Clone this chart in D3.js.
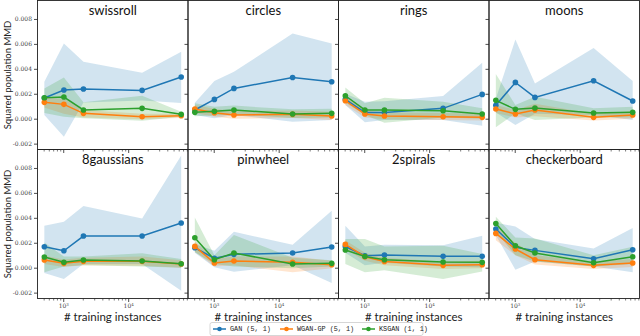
<!DOCTYPE html>
<html>
<head>
<meta charset="utf-8">
<script src="https://cdn.jsdelivr.net/npm/d3@7"></script>
<style>
  body { margin: 0; background: #fff; }
  svg { display: block; }
</style>
</head>
<body>
<svg id="chart"></svg>
<script>
// datasets (one panel each), x positions, series
const datasets = ['swissroll', 'circles', 'rings', 'moons', '8gaussians', 'pinwheel', '2spirals', 'checkerboard'];
const instances = [512, 1024, 2048, 16384, 65536];
const seriesNames = ['GAN (5, 1)', 'WGAN-GP (5, 1)', 'KSGAN (1, 1)'];
const seriesColors = ['#1f77b4', '#ff7f0e', '#2ca02c'];
const yTicks = [-2, 0, 2, 4, 6, 8];       // in units of 1e-3
const xMajorTicks = [1e3, 1e4];

// all MMD values below are in units of 1e-3, one row per dataset
const ganMean = [
  [1.66, 2.30, 2.38, 2.27, 3.34], [0.70, 1.55, 2.43, 3.31, 2.96], [1.55, 0.50, 0.50, 0.83, 1.95], [1.07, 2.91, 1.71, 3.04, 1.42],
  [1.68, 1.36, 2.54, 2.54, 3.58], [1.60, 0.75, 1.07, 1.18, 1.66], [1.70, 0.96, 1.02, 0.91, 0.91], [3.10, 1.63, 1.39, 0.72, 1.44]
];
const ganLow = [
  [0.30, -1.44, 1.30, 1.45, 1.25], [0.30, 0.03, 0.30, -0.24, -0.10], [1.10, -0.29, -0.10, -0.10, -0.56], [0.50, -0.50, 0.40, 0.30, -0.10],
  [-0.42, -0.90, 0.30, 0.30, -1.84], [1.20, 0.03, -0.32, 0.20, -1.22], [1.20, 0.20, 0.40, 0.10, 0.03], [2.60, -0.16, 0.50, 0.10, -0.37]
];
const ganHigh = [
  [2.96, 6.03, 4.56, 3.68, 5.36], [1.28, 3.02, 3.76, 6.83, 6.03], [2.00, 1.36, 1.40, 1.82, 4.48], [1.60, 6.35, 2.83, 5.68, 3.02],
  [3.36, 3.68, 4.94, 3.95, 9.00], [1.90, 1.36, 2.88, 1.84, 4.56], [3.36, 1.70, 1.84, 1.80, 2.56], [3.60, 3.31, 2.30, 1.55, 3.18]
];

const wganMean = [
  [1.31, 1.15, 0.43, 0.16, 0.24], [0.78, 0.48, 0.30, 0.35, 0.22], [1.44, 0.38, 0.22, 0.16, 0.11], [0.78, 0.38, 0.70, 0.11, 0.30],
  [0.62, 0.35, 0.51, 0.51, 0.30], [1.71, 0.38, 0.54, 0.43, 0.24], [1.87, 0.88, 0.50, 0.19, 0.24], [2.75, 1.50, 0.64, 0.19, 0.38]
];
const wganLow = [
  [0.90, 0.40, 0.10, -0.05, 0.05], [0.45, 0.15, 0.00, 0.05, -0.10], [1.10, 0.10, -0.05, -0.10, -0.15], [0.45, 0.10, 0.20, -0.15, 0.00],
  [0.30, 0.05, 0.20, 0.15, 0.00], [1.30, 0.10, 0.20, -0.37, -0.05], [1.50, 0.55, 0.20, -0.10, -0.05], [2.20, 1.00, 0.25, -0.10, 0.05]
];
const wganHigh = [
  [1.70, 1.60, 0.70, 0.40, 0.40], [1.10, 0.80, 0.60, 0.65, 0.55], [1.80, 0.65, 0.50, 0.45, 0.40], [1.10, 0.70, 1.20, 0.40, 0.60],
  [0.95, 0.65, 0.80, 0.90, 0.60], [2.10, 0.70, 0.90, 0.90, 0.55], [2.20, 1.20, 0.80, 0.50, 0.55], [3.30, 2.00, 1.00, 0.50, 0.70]
];

const ksganMean = [
  [1.68, 1.74, 0.70, 0.83, 0.35], [0.51, 0.59, 0.70, 0.38, 0.43], [1.84, 0.70, 0.70, 0.64, 0.38], [1.47, 0.75, 0.86, 0.46, 0.51],
  [0.86, 0.43, 0.62, 0.54, 0.32], [2.40, 0.64, 1.18, 0.30, 0.35], [1.42, 0.90, 0.64, 0.46, 0.43], [3.55, 1.76, 1.18, 0.40, 0.88]
];
const ksganLow = [
  [0.45, 0.16, 0.03, -0.16, 0.16], [0.20, 0.25, 0.35, 0.05, 0.10], [1.30, 0.30, -0.32, 0.10, 0.00], [-0.69, 0.43, -0.10, 0.10, 0.10],
  [-0.37, 0.10, 0.20, 0.10, 0.00], [1.23, 0.30, 0.10, -0.05, 0.10], [0.30, -0.37, -0.20, -0.90, -0.30], [2.90, 1.00, 0.50, 0.10, 0.30]
];
const ksganHigh = [
  [2.43, 3.31, 1.31, 1.84, 0.56], [1.23, 0.95, 1.05, 0.75, 0.80], [2.50, 1.23, 1.68, 1.36, 0.83], [3.58, 1.10, 1.76, 0.83, 0.96],
  [2.03, 0.90, 0.90, 1.15, 0.70], [4.03, 1.00, 2.62, 0.80, 0.60], [2.30, 2.30, 1.70, 1.76, 1.10], [4.08, 2.43, 2.35, 1.00, 1.68]
];

const seriesMean = [ganMean, wganMean, ksganMean];
const seriesLow = [ganLow, wganLow, ksganLow];
const seriesHigh = [ganHigh, wganHigh, ksganHigh];

function getConfig() {
  let width = 640, height = 336;
  let margin = { left: 37.5, top: 0.5 };
  let panelWidth = 150.5, panelHeight = 149;
  let container = d3.select('#chart').attr('width', width).attr('height', height);
  return { width, height, margin, panelWidth, panelHeight, container };
}

function getScales(config) {
  let { panelWidth, panelHeight } = config;
  let xScale = d3.scaleLog().domain([Math.pow(10, 2.604), Math.pow(10, 4.921)]).range([0, panelWidth]);
  let yScale = d3.scaleLinear().domain([-2.47, 9.48]).range([panelHeight, 0]);
  return { xScale, yScale };
}

function drawPanel(i, scales, config) {
  let { margin, panelWidth, panelHeight, container } = config;
  let { xScale, yScale } = scales;
  let col = i % 4, row = Math.floor(i / 4);
  let g = container.append('g')
    .attr('transform', `translate(${margin.left + col * panelWidth},${margin.top + row * panelHeight})`);

  let clipId = 'clip' + i;
  g.append('clipPath').attr('id', clipId)
    .append('rect').attr('width', panelWidth).attr('height', panelHeight);
  let body = g.append('g').attr('clip-path', `url(#${clipId})`);

  let area = d3.area()
    .x((d, j) => xScale(instances[j]))
    .y0(d => yScale(d[0]))
    .y1(d => yScale(d[1]));
  let line = d3.line()
    .x((d, j) => xScale(instances[j]))
    .y(d => yScale(d));

  // bands under everything
  seriesNames.forEach((s, k) => {
    let band = seriesLow[k][i].map((lo, j) => [lo, seriesHigh[k][i][j]]);
    body.append('path').datum(band)
      .attr('d', area)
      .attr('fill', seriesColors[k])
      .attr('fill-opacity', 0.2)
      .attr('stroke', 'none');
  });

  seriesNames.forEach((s, k) => {
    let values = seriesMean[k][i];
    body.append('path').datum(values)
      .attr('d', line)
      .attr('fill', 'none')
      .attr('stroke', seriesColors[k])
      .attr('stroke-width', 1.5);
    body.selectAll('.dot' + k).data(values).enter()
      .append('circle')
      .attr('cx', (d, j) => xScale(instances[j]))
      .attr('cy', d => yScale(d))
      .attr('r', 2.8)
      .attr('fill', seriesColors[k]);
  });

  // y axis
  let axisY = d3.axisLeft(yScale).tickValues(yTicks).tickSize(3.5).tickPadding(2)
    .tickFormat(col === 0 ? (d => (d / 1000).toFixed(3)) : '');
  let gy = g.append('g').call(axisY);
  gy.select('.domain').remove();
  gy.selectAll('.tick line').attr('stroke', '#222').attr('stroke-width', 0.8);
  gy.selectAll('.tick text').attr('font-family', 'DejaVu Serif').attr('font-size', 6).attr('fill', '#444');

  // x axis
  let minors = [];
  for (let e = 2; e <= 4; e++) for (let m = 2; m <= 9; m++) minors.push(m * Math.pow(10, e));
  minors = minors.filter(v => v >= xScale.domain()[0] && v <= xScale.domain()[1]);
  let gxMinor = g.append('g').attr('transform', `translate(0,${panelHeight})`)
    .call(d3.axisBottom(xScale).tickValues(minors).tickSize(2).tickFormat(''));
  gxMinor.select('.domain').remove();
  gxMinor.selectAll('.tick line').attr('stroke', '#222').attr('stroke-width', 0.6);

  let gx = g.append('g').attr('transform', `translate(0,${panelHeight})`)
    .call(d3.axisBottom(xScale).tickValues(xMajorTicks).tickSize(3.5).tickPadding(2).tickFormat(''));
  gx.select('.domain').remove();
  gx.selectAll('.tick line').attr('stroke', '#222').attr('stroke-width', 0.8);
  if (row === 1) {
    gx.selectAll('.tick text').each(function(d) {
      let t = d3.select(this).attr('font-family', 'DejaVu Serif').attr('font-size', 6).attr('fill', '#444');
      t.append('tspan').text('10');
      t.append('tspan').attr('dy', -2.5).attr('font-size', 4).text(Math.round(Math.log10(d)));
    });
    g.append('text')
      .attr('x', panelWidth / 2).attr('y', panelHeight + 22)
      .attr('text-anchor', 'middle')
      .attr('font-family', 'Lato').attr('font-size', 11.5).attr('fill', '#222')
      .text('# training instances');
  }

  // frame
  g.append('rect').attr('width', panelWidth).attr('height', panelHeight)
    .attr('fill', 'none').attr('stroke', '#222').attr('stroke-width', 0.9);

  // title inside panel
  g.append('text')
    .attr('x', panelWidth / 2).attr('y', 14)
    .attr('text-anchor', 'middle')
    .attr('font-family', 'Lato').attr('font-size', 13).attr('fill', '#111')
    .text(datasets[i]);

  if (col === 0) {
    g.append('text')
      .attr('transform', `translate(${-27},${panelHeight / 2}) rotate(-90)`)
      .attr('text-anchor', 'middle')
      .attr('font-family', 'Lato').attr('font-size', 9.5).attr('fill', '#222')
      .text('Squared population MMD');
  }
}

function drawLegend(config) {
  let { container } = config;
  let lg = container.append('g').attr('transform', 'translate(210,322.5)');
  lg.append('rect').attr('width', 213).attr('height', 13).attr('rx', 2)
    .attr('fill', '#fff').attr('stroke', '#ccc').attr('stroke-width', 0.8);
  let offsets = [3, 70, 152];
  seriesNames.forEach((s, k) => {
    let item = lg.append('g').attr('transform', `translate(${offsets[k]},6.5)`);
    item.append('line').attr('x1', 0).attr('x2', 13)
      .attr('stroke', seriesColors[k]).attr('stroke-width', 1.5);
    item.append('circle').attr('cx', 6.5).attr('r', 2.3).attr('fill', seriesColors[k]);
    item.append('text').attr('x', 17).attr('dy', '0.35em')
      .attr('font-family', 'Liberation Mono').attr('font-size', 6.8).attr('fill', '#222')
      .text(s);
  });
}

function drawChart() {
  let config = getConfig();
  let scales = getScales(config);
  datasets.forEach((d, i) => drawPanel(i, scales, config));
  drawLegend(config);
}

drawChart();
</script>
</body>
</html>
